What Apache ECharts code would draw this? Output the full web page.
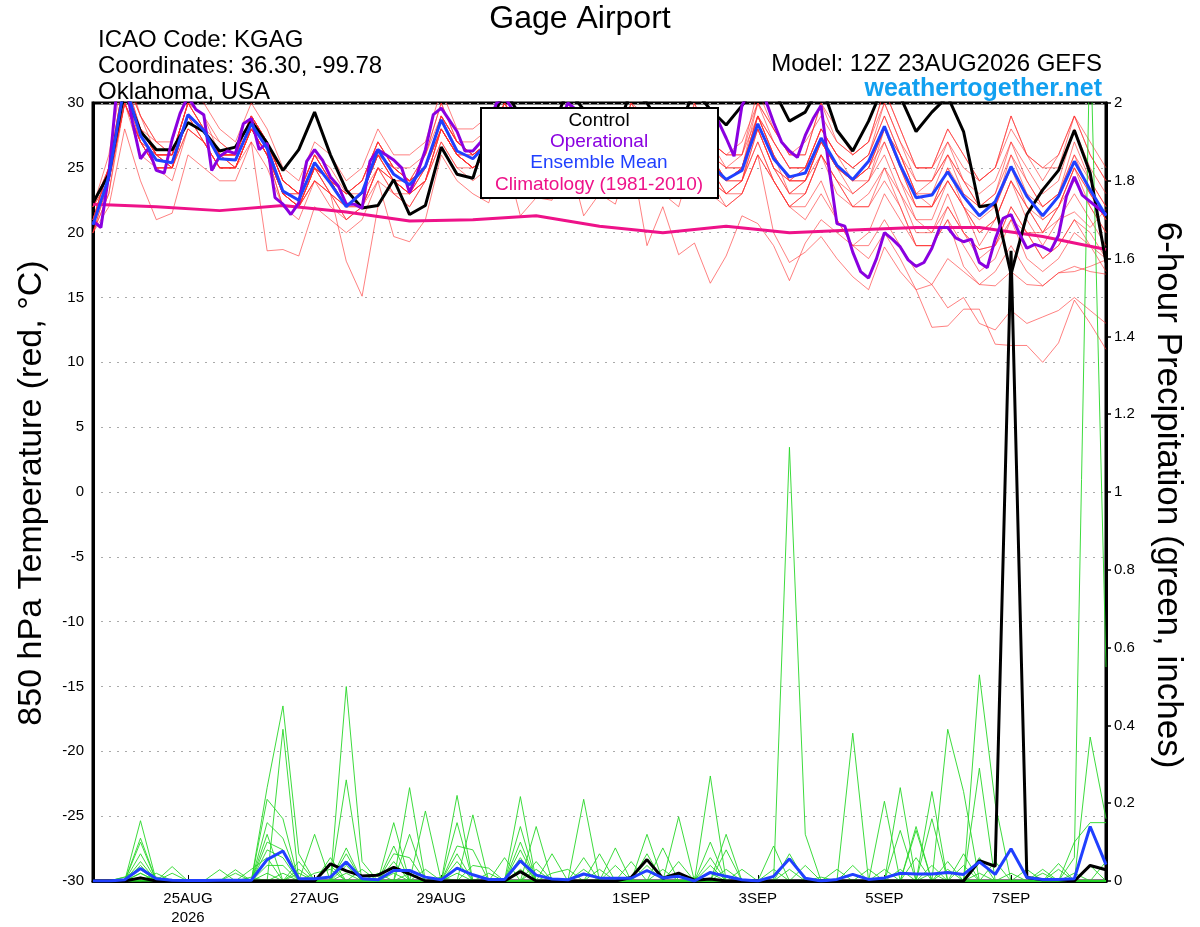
<!DOCTYPE html>
<html><head><meta charset="utf-8">
<script src="https://cdn.jsdelivr.net/npm/echarts@6/dist/echarts.min.js"></script>
<style>html,body{margin:0;padding:0;background:#fff}#c{width:1200px;height:927px}</style>
</head><body><div id="c"></div>
<script>
// ---------- data ----------
const stepHours = 6;          // ensemble / control / mean interval
const opStepHours = 3;        // operational interval
const climStepHours = 24;     // climatology interval
const xTickHours = [36, 84, 132, 204, 252, 300, 348];
const xTickLabels = ['25AUG\n2026', '27AUG', '29AUG', '1SEP', '3SEP', '5SEP', '7SEP'];
const tempTicks = [-30, -25, -20, -15, -10, -5, 0, 5, 10, 15, 20, 25, 30];
const precipTicks = [0, 0.2, 0.4, 0.6, 0.8, 1, 1.2, 1.4, 1.6, 1.8, 2];

const controlTemp = [22.3,24.5,31,27.8, 26.4,26.4,28.5,27.8, 26.3,26.6,28.6,26.9, 24.8,26.4,29.3,26, 23.3,21.9,22.1,24.1, 21.4,22.1,26.6,24.5, 24.2,28,31,29, 27.5,28,31,29.5, 27.5,27.5,31,30, 28,28,31,29.5, 28.3,29.8,31.5,31, 28.6,29.3,31.5,27.9, 26.3,28.6,31.5,30.5, 27.8,29.3,30.5,27.8, 22,22.2,16.8,21.4, 23.3,24.8,27.9,24.6, 17.7];
const meanTemp = [20.6,24.3,31.5,27.5, 25.6,25.4,29.1,27.9, 25.7,25.6,28.4,26.5, 23.2,22.5,25.4,23.8, 22.0,23.1,26.4,24.5, 23.7,25.1,28.7,26.3, 25.7,27,29,27.5, 26,25.8,28.5,27, 25.5,25,28.5,27, 25,24.5,28,25.3, 24.1,24.8,28.4,25.7, 24.3,24.6,27.3,25.2, 24.1,25.5,28.2,25.2, 22.7,22.9,24.7,22.8, 21.3,22.4,25.1,22.8, 21.3,22.8,25.5,23.3, 21.3];
const operationalTemp = [20.9,20.4,24.5,31,32,28.5,25.7,26.5, 24.8,24.6,27.2,29.2,30.5,29.5,29.1,24.8, 25.9,26.3,26.1,28.4,28.8,26.4,26.9,22.7, 22.2,21.4,22.3,25.5,26.4,25.6,24.3,23.6, 22.2,22.2,21.9,25.5,26.4,26,25.6,25, 23.1,24.6,26.4,29.1,29.6,28.7,27.8,26.3, 26.3,27,28.5,30,30.5,29.5,28,27, 26.5,26,26.5,28.5,30,29.5,28,26.5, 25.5,25,25.5,28,29.5,29,27.5,26, 25,24.5,25,27.5,29.5,29.5,29,28.6, 27.3,25.9,29.8,31,31.5,30.2,28.5,27, 26.3,25.8,27.5,28.8,29.8,25,20.7,20.5, 18.5,17,16.5,18,20,19.5,18.9,17.9, 17.4,17.7,18.8,20.4,20.4,19.6,19.3,19.5, 17.7,17.3,19.5,21.1,21.4,20,18.8,19.1, 18.9,18.6,19.8,22.8,24.3,22.9,22.4,21.9, 21.4];
const climatology = [22.2,22.0,21.7,22.1,21.6,20.9,21.0,21.3,20.5,20.0,20.5,20.0,20.2,20.4,20.4,19.7,18.7];
const controlPrecip = [0,0,0,.008, 0,0,0,0, 0,0,0,0, 0,0,0,.044, .026,.013,.015,.035, .018,0,0,0, 0,0,0,.024, 0,0,0,0, 0,0,.009,.055, .007,.02,.002,.005, 0,0,0,0, 0,0,0,0, 0,0,0,0, 0,0,0,0, .052,.038,1.62,.009, .003,.003,0,.04, .029];
const meanPrecip = [0,0,.003,.032, .006,.002,.001,.001, .002,.002,.002,.055, .077,.006,.006,.01, .049,.006,.003,.027, .027,.01,.003,.033, .016,.004,.004,.052, .015,.005,.003,.018, .008,.007,.007,.027, .008,.012,0,.022, .012,.003,0,.012, .057,.007,0,.004, .017,.004,.008,.02, .018,.018,.022,.017, .049,.017,.083,.009, .004,.004,.006,.14, .042];

// ensemble member 850 hPa temperatures (6-hourly)
const memberTemp01 = [22,26,33,29, 27,27,31,30, 28,27,30,28, 25,24,27,26, 24,25,28,26, 26,27,31,28, 28,29,31,29, 28,28,30,29, 27,27,30,29, 27,26,30,27, 26,27,30,28, 26,27,29,27, 26,27,30,27, 25,25,27,25, 24,25,28,26, 25,26,29,27, 25];
const memberTemp02 = [21,24,31,27, 26,25,29,28, 26,25,28,27, 23,22,25,23, 22,23,26,25, 24,25,29,27, 26,27,30,27, 26,26,29,27, 25,25,29,27, 25,24,28,26, 24,25,29,26, 24,24,27,25, 24,25,28,26, 23,23,26,23, 22,22,25,23, 22,23,26,24, 22];
const memberTemp03 = [20,22,28,24, 21,21.5,26,25, 24,24,27,25, 22,21,24,22, 21,22,25,23, 22,24,28,26, 25,26,29,27, 25,25,28,27, 24,24,28,27, 24,24,27,25, 23,24,28,25, 24,24,27,25, 24,25,28,25, 22,22,24,22, 20,21,24,22, 20,22,25,23, 21];
const memberTemp04 = [21,24,30,26, 25,25,28,27, 25,25,27,18.6, 18.7,18.2,22,21, 20,21,24,23, 22,24,27,25, 24,25,28,26, 24,24,27,25, 23,23,27,25, 24,23,27,24, 23,24,27,24, 22,23,26,23, 22,22,25,22, 19,19,21,19, 17,18,21,18, 17,18,20,19, 17];
const memberTemp05 = [22,25,32,28, 26,26,30,28, 26,26,29,27, 24,23,26,24, 23,24,27,25, 24,25,28,26, 25,26,28,26, 25,24,27,25, 24,23,26,19, 22,18.3,19.2,16.1, 18.2,21.3,20.7,19, 16.3,19.2,21,20, 19,20,23,21, 19,19,22,20, 18,19,22,20, 18,19,21,20, 18];
const memberTemp06 = [21,24,31,28, 26,26,29,28, 26,25,28,26, 23,23,25,24, 22,23,26,24, 23,25,28,26, 25,26,28,26, 25,25,28,26, 24,24,27,25, 24,24,27,24, 23,24,27,24, 22,22,24,21, 19,18,20,18, 15.6,12.7,12.8,14.1, 14.1,11.4,11.3,11.3, 10,11.5,14.8,13, 11];
const memberTemp07 = [20,24,30,27, 25,25,28,27, 25,25,28,26, 22,22,24,23, 21,22,25,23, 23,24,27,25, 25,26,28,26, 25,25,27,26, 24,24,27,26, 24,23,26,24, 22,23,26,20, 17.7,18.5,19.7,18, 16.6,15.6,18.9,17, 15.6,16,18,17, 16,15.9,17,16, 15.9,16.9,17,17.4, 17.9];
const memberTemp08 = [21,25,31,28, 26,25,29,28, 26,26,28,26, 23,22,24,23, 17.8,15.1,22,24, 24,25,28,26, 26,27,29,27, 26,26,28,27, 25,25,28,27, 25,24,28,25, 24,25,28,25, 24,25,27,25, 24,25,27,24, 22,22,24,22, 20,21,24,22, 21,22,24,22, 20];
const memberTemp09 = [22,24,30,27, 25,25,29,27, 25,25,28,26, 23,22,25,23, 21,22,24,19.7, 19.3,21,26,24, 23,22.3,26,21.3, 22.7,22.5,26,21.3, 23,22.2,26,24, 23,22,26,23, 22,23,26,24, 22,23,26,24, 22,23,25,23, 20,20,23,20, 18.7,19,22,20, 18,19,21,19, 18];
const memberTemp10 = [21,25,32,29, 27,26,30,29, 27,26,29,27, 24,23,26,24, 23,24,27,25, 25,26,30,27, 27,28,30,28, 27,27,30,28, 26,26,30,28, 26,25,29,27, 26,26,30,28, 26,26,30,28, 26,27,31,28, 25,25,28,26, 24,25,29,26, 24,26,29,26, 24];
const memberTemp11 = [20,23,31,28, 26,25,29,28, 26,26,29,27, 24,23,26,24, 22,23,26,24, 23,25,29,26, 26,27,29,27, 26,25,28,27, 25,25,28,26, 25,24,28,26, 25,25,30,27, 25,25,28,26, 25,26,29,26, 23,24,27,24, 22,23,27,24, 22,23,27,24, 22];
const memberTemp12 = [22,24,30,27, 25,24,28,27, 25,25,28,26, 22,22,25,24, 22,23,25,24, 23,24,28,26, 25,26,28,26, 25,25,29,27, 24,24,28,26, 24,24,28,25, 24,24,29,26, 23,23,26,24, 23,24,27,24, 21,21,24,22, 19,21,24,21, 19,21,23,21, 19];
const memberTemp13 = [21,25,32,28, 27,26,30,28, 27,26,29,27, 24,23,25,24, 23,23,26,25, 24,26,29,27, 26,27,30,28, 26,26,29,27, 25,25,29,27, 25,24,29,26, 25,26,29,27, 25,25,28,26, 25,26,29,26, 24,24,26,24, 22,23,26,24, 22,23,26,23, 21];
const memberTemp14 = [20,24,31,28, 26,26,29,28, 26,26,29,27, 24,23,25,24, 22,23,26,24, 24,25,29,27, 26,27,29,27, 26,26,28,27, 25,25,28,26, 25,24,28,26, 24,25,28,25, 23,24,26,24, 22,22,24,22, 19,19,21,17.4, 16,17,19,17, 15.9,16.9,17.4,17, 16.8];
const memberTemp15 = [22,25,31,28, 26,26,30,28, 26,26,29,27, 23,23,26,24, 23,24,27,25, 24,25,29,27, 26,27,30,28, 26,26,29,28, 26,26,29,28, 26,25,29,27, 25,25,29,27, 25,25,28,26, 25,26,30,27, 24,24,26,24, 23,24,27,25, 23,24,28,25, 23];
const memberTemp16 = [21,24,30,27, 25,25,29,27, 25,25,28,26, 23,22,24,23, 22,22,25,24, 23,24,28,26, 25,26,29,27, 25,25,28,26, 25,24,28,26, 24,24,27,25, 24,24,28,25, 23,24,27,25, 23,24,26,23, 21,20,22,20, 18.7,19,21,20, 20,21,21.6,20.4, 21.8];
const memberTemp17 = [21,25,32,29, 26,26,30,29, 26,26,29,27, 24,23,26,25, 23,24,27,25, 24,26,30,27, 26,27,30,28, 27,27,30,28, 26,26,30,28, 26,25,30,27, 26,26,31,28, 26,26,30,27, 26,27,31,28, 25,25,28,26, 24,25,29,26, 25,25,29,26, 24];
const memberTemp18 = [21,24,31,27, 25,25,29,27, 25,25,28,26, 23,22,25,23, 22,22,25,24, 23,24,28,26, 25,26,28,26, 25,25,28,26, 24,24,27,26, 24,24,27,25, 23,23,26,24, 22,21,23,21, 19,19,21,19, 17,16,14.2,15, 13,12.5,14,13, 13.5,14,15,14, 13];
const memberTemp19 = [22,25,31,28, 26,26,30,28, 26,26,28,26, 23,22,25,24, 22,23,26,25, 24,25,29,27, 26,27,29,27, 26,26,29,27, 25,25,29,27, 25,24,28,26, 24,25,29,26, 24,25,28,26, 24,25,28,26, 23,22,25,23, 22,22,26,23, 21,22,25,23, 21];
const memberTemp20 = [20,23,30,27, 26,25,29,28, 26,25,28,26, 23,22,25,24, 22,23,26,24, 23,25,28,26, 25,26,29,27, 25,25,29,27, 25,24,28,27, 25,24,28,26, 24,25,29,26, 24,24,27,25, 24,24,28,25, 22,22,25,22, 21,22,25,22, 20,22,25,22, 20];

// ensemble member 6-hour precipitation (inches)
const memberPrecip01 = [0,0,0,.155, 0,0,0,0, 0,0,0,.24, .45,.07,0,0, .04,0,0,.15, 0,0,0,.22, 0,0,0,.217, 0,0,0,.21, 0,0,0,0, 0,0,0,.27, 0,0,0,0, .07,0,0,0, 0,0,0,.24, 0,0,0,0, .53,.2,0,0, 0,0,0,0, 0];
const memberPrecip02 = [0,0,0,.11, 0,0,0,0, 0,0,0,0, .39,0,0,0, .5,.05,0,0, .24,0,0,0, .17,0,0,0, .14,0,0,0, 0,0,0,.12, 0,0,0,0, 0,0,0,0, 0,0,0,0, .38,0,0,0, 0,.23,0,0, 0,0,0,0, 0,0,0,.37, .16];
const memberPrecip03 = [0,0,0,.1, 0,0,0,0, 0,0,0,.21, .16,0,.12,0, 0,0,0,0, 0,.18,0,0, 0,0,0,.14, 0,0,0,0, 0,0,0,0, 0,.165,0,0, 0,0,0,0, 1.115,.12,0,0, 0,0,0,0, 0,0,.39,.23, 0,0,0,0, 0,0,0,0, 0];
const memberPrecip04 = [0,0,0,.07, 0,.037,0,0, 0,0,0,.15, .11,0,0,0, .26,0,0,.09, 0,0,0,.15, 0,0,0,0, 0,0,0,.06, 0,0,0,0, 0,0,0,.1, 0,0,0,0, 0,0,0,0, 0,0,.205,0, 0,0,0,0, .29,0,0,0, 0,0,.06,2.2, .55];
const memberPrecip05 = [0,0,0,.05, 0,0,0,0, 0,.029,0,.12, 0,0,0,0, .085,0,0,0, .12,0,0,0, 0,0,0,.1, 0,0,0,0, 0,.085,0,0, 0,0,0,0, .12,0,0,0, 0,0,0,0, 0,0,0,0, .13,0,0,0, 0,0,0,0, 0,0,.1,.15, .15];
const memberPrecip06 = [0,0,0,.04, 0,0,0,0, .029,0,0,.1, .08,0,0,.06, 0,0,0,0, 0,0,0,.09, .08,0,0,0, 0,.07,0,0, 0,0,0,0, .085,0,0,0, 0,0,0,.09, 0,0,0,0, 0,0,0,.13, 0,.16,0,0, 0,0,0,0, 0,0,0,0, 0];
const memberPrecip07 = [0,0,.01,.03, 0,0,0,0, 0,0,0,.08, .06,0,0,0, 0,0,0,.07, .06,0,0,0, 0,0,0,.08, 0,0,0,0, .07,0,0,0, 0,0,0,.06, 0,0,0,0, 0,0,0,0, 0,0,0,0, .14,0,0,.07, 0,0,0,0, 0,0,0,0, .05];
const memberPrecip08 = [0,0,0,0, .02,0,0,0, 0,0,.03,.06, 0,.05,0,0, .07,0,0,0, 0,.03,0,.07, 0,0,0,0, .05,0,0,0, 0,0,0,.07, 0,0,0,0, .08,0,0,0, 0,0,0,0, .04,0,0,0, 0,0,.05,0, 0,0,0,0, 0,.045,0,0, 0];
const memberPrecip09 = [0,0,0,0, 0,0,0,0, 0,0,0,.04, .04,0,0,.04, 0,0,0,.05, 0,0,0,.05, 0,0,0,.06, 0,0,0,.03, 0,0,0,0, 0,.05,0,0, 0,0,0,0, .03,0,0,0, 0,0,.03,0, 0,0,0,0, .06,0,0,0, .03,0,0,0, 0];
const memberPrecip10 = [0,0,0,0, 0,.02,0,0, 0,.02,0,0, 0,.03,0,0, 0,.03,0,0, 0,0,0,0, .04,.033,0,.05, 0,0,0,0, 0,.04,0,0, 0,0,0,.04, 0,0,0,0, 0,.04,0,0, 0,0,0,0, 0,.04,0,0, 0,.05,0,0, 0,0,0,.04, 0];
const memberPrecip11 = [0,0,.01,0, 0,0,0,0, 0,0,0,0, 0,0,.02,.03, 0,0,0,0, .02,0,0,0, 0,0,.06,0, .03,0,0,0, 0,0,0,.04, 0,0,0,0, 0,.03,0,0, 0,0,0,.03, 0,0,0,.03, 0,0,0,.04, 0,0,0,.03, 0,0,0,0, 0];
const memberPrecip12 = [0,0,0,.02, 0,0,0,0, 0,0,0,0, 0,.02,0,0, 0,0,.02,0, 0,0,0,0, 0,.02,0,0, 0,.02,.03,0, 0,0,.05,0, .03,0,0,0, .03,0,0,.03, 0,0,0,0, 0,.03,0,0, .06,0,.03,0, 0,0,.02,0, 0,.03,0,0, 0];
const memberPrecip13 = [0,0,0,.02, 0,0,0,0, 0,0,0,0, .02,0,0,0, 0,0,0,0, 0,0,.01,0, 0,0,0,0, 0,0,0,0, .03,0,0,0, 0,0,0,0, 0,0,0,0, 0,0,.01,0, 0,0,0,0, 0,0,0,0, 0,0,0,0, .02,0,0,0, 0];
const memberPrecip14 = [0,0,0,0, .01,0,0,0, 0,0,.01,0, 0,0,0,0, .02,0,0,0, 0,0,0,0, 0,0,0,0, 0,0,0,0, 0,0,0,0, 0,0,.01,0, 0,0,0,0, 0,0,0,0, 0,0,0,0, 0,0,0,0, 0,0,0,0, 0,0,.02,0, 0];
const memberPrecip15 = [0,0,0,0, 0,0,0,0, 0,0,0,.02, 0,0,0,0, 0,0,0,.02, 0,0,0,0, 0,0,0,.03, 0,0,0,0, 0,0,0,0, 0,0,0,0, 0,0,0,0, 0,0,0,0, 0,0,0,0, 0,0,0,0, .02,0,0,0, 0,0,0,0, 0];
const memberPrecip16 = [0,0,0,.01, 0,0,0,0, 0,0,0,0, 0,0,0,0, 0,0,0,0, 0,0,0,.02, 0,0,0,0, 0,0,0,0, 0,0,0,0, 0,0,0,.02, 0,0,0,0, 0,0,0,0, 0,0,0,0, 0,.02,0,0, 0,0,0,0, 0,0,0,0, 0];

const memberTemps = [memberTemp01,memberTemp02,memberTemp03,memberTemp04,memberTemp05,memberTemp06,memberTemp07,memberTemp08,memberTemp09,memberTemp10,memberTemp11,memberTemp12,memberTemp13,memberTemp14,memberTemp15,memberTemp16,memberTemp17,memberTemp18,memberTemp19,memberTemp20];
const memberPrecips = [memberPrecip01,memberPrecip02,memberPrecip03,memberPrecip04,memberPrecip05,memberPrecip06,memberPrecip07,memberPrecip08,memberPrecip09,memberPrecip10,memberPrecip11,memberPrecip12,memberPrecip13,memberPrecip14,memberPrecip15,memberPrecip16];

// ---------- chart ----------
const FONT = "'Liberation Sans', Arial, Helvetica, sans-serif";
const pairs = (arr, step) => arr.map((v, i) => [i * step, v]);
const base = { type: 'line', showSymbol: false, symbol: 'none', silent: true, clip: true, animation: false };

const series = [];
memberTemps.forEach((m, j) => series.push(Object.assign({}, base, {
  name: 'mt' + j, yAxisIndex: 0, data: pairs(m, stepHours),
  lineStyle: { color: 'rgba(255,45,45,0.6)', width: 1 }, z: 2
})));
memberPrecips.forEach((m, j) => series.push(Object.assign({}, base, {
  name: 'mp' + j, yAxisIndex: 1, data: pairs(m, stepHours),
  lineStyle: { color: 'rgba(40,215,40,0.9)', width: 1 }, z: 3
})));
series.push(Object.assign({}, base, { name: 'Climatology', yAxisIndex: 0, data: pairs(climatology, climStepHours), lineStyle: { color: '#ee1289', width: 3 }, z: 4 }));
series.push(Object.assign({}, base, { name: 'ControlP', yAxisIndex: 1, data: pairs(controlPrecip, stepHours), lineStyle: { color: '#000', width: 3 }, z: 5 }));
series.push(Object.assign({}, base, { name: 'Control', yAxisIndex: 0, data: pairs(controlTemp, stepHours), lineStyle: { color: '#000', width: 3 }, z: 5 }));
series.push(Object.assign({}, base, { name: 'Operational', yAxisIndex: 0, data: pairs(operationalTemp, opStepHours), lineStyle: { color: '#8a00e0', width: 3 }, z: 6 }));
series.push(Object.assign({}, base, { name: 'MeanP', yAxisIndex: 1, data: pairs(meanPrecip, stepHours), lineStyle: { color: '#2040ff', width: 3 }, z: 7 }));
series.push(Object.assign({}, base, { name: 'Mean', yAxisIndex: 0, data: pairs(meanTemp, stepHours), lineStyle: { color: '#2040ff', width: 3 }, z: 7 }));

const txt = (text, x, y, opt) => Object.assign({
  type: 'text', x: x, y: y, z: 110, silent: true,
  style: Object.assign({ text: text, font: '24px ' + FONT, fill: '#000', textAlign: 'left', textVerticalAlign: 'middle' }, opt || {})
});

const leftName = txt('850 hPa Temperature (red, \u00B0C)', 32, 493, { font: '34px ' + FONT, textAlign: 'center' });
leftName.rotation = Math.PI / 2;
const rightName = txt('6-hour Precipitation (green, inches)', 1168, 495, { font: '35px ' + FONT, textAlign: 'center' });
rightName.rotation = -Math.PI / 2;

const option = {
  animation: false,
  backgroundColor: '#fff',
  grid: { left: 93, right: 94, top: 103, bottom: 44, show: true, borderColor: '#000', borderWidth: 3, backgroundColor: 'transparent' },
  xAxis: {
    type: 'value', min: 0, max: 384,
    axisLine: { show: true, onZero: false, lineStyle: { color: '#000', width: 3 } },
    axisTick: { show: true, inside: true, length: 6, customValues: xTickHours, lineStyle: { color: '#000', width: 1 } },
    axisLabel: { show: true, customValues: xTickHours, margin: 8, color: '#000', fontFamily: FONT, fontSize: 15, lineHeight: 19,
      formatter: v => { const k = xTickHours.indexOf(v); return k >= 0 ? xTickLabels[k] : ''; } },
    splitLine: { show: false }
  },
  yAxis: [
    { type: 'value', min: tempTicks[0], max: tempTicks[tempTicks.length - 1], interval: 5, position: 'left',
      axisLine: { show: true, lineStyle: { color: '#000', width: 3 } },
      axisTick: { show: false },
      axisLabel: { color: '#000', fontFamily: FONT, fontSize: 15, margin: 9 },
      splitLine: { show: true, lineStyle: { color: '#aaaaaa', width: 1.2, type: [2, 6] } } },
    { type: 'value', min: precipTicks[0], max: precipTicks[precipTicks.length - 1], interval: 0.2, position: 'right',
      axisLine: { show: true, lineStyle: { color: '#000', width: 3 } },
      axisTick: { show: true, length: 5, lineStyle: { color: '#000', width: 1.5 } },
      axisLabel: { color: '#000', fontFamily: FONT, fontSize: 15, margin: 8, formatter: v => String(+v.toFixed(1)) },
      splitLine: { show: false } }
  ],
  series: series,
  graphic: [
    txt('Gage Airport', 580, 19, { font: '32px ' + FONT, textAlign: 'center' }),
    txt('ICAO Code: KGAG', 98, 40),
    txt('Coordinates: 36.30, -99.78', 98, 66),
    txt('Oklahoma, USA', 98, 92),
    txt('Model: 12Z 23AUG2026 GEFS', 1102, 64, { textAlign: 'right' }),
    txt('weathertogether.net', 1102, 89, { textAlign: 'right', font: 'bold 25px ' + FONT, fill: '#12a0f0' }),
    leftName,
    rightName,
    { type: 'rect', z: 100, silent: true, shape: { x: 481, y: 108, width: 237, height: 90 }, style: { fill: '#fff', stroke: '#000', lineWidth: 2 } },
    txt('Control', 599, 121, { font: '19px ' + FONT, textAlign: 'center' }),
    txt('Operational', 599, 142, { font: '19px ' + FONT, textAlign: 'center', fill: '#8a00e0' }),
    txt('Ensemble Mean', 599, 163, { font: '19px ' + FONT, textAlign: 'center', fill: '#2040ff' }),
    txt('Climatology (1981-2010)', 599, 185, { font: '19px ' + FONT, textAlign: 'center', fill: '#ee1289' })
  ]
};

const chart = echarts.init(document.getElementById('c'), null, { renderer: 'canvas' });
chart.setOption(option);
</script>
</body></html>
